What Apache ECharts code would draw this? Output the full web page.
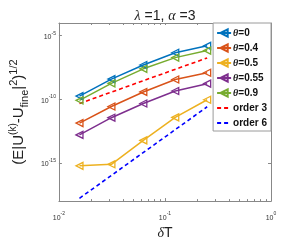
<!DOCTYPE html>
<html><head><meta charset="utf-8">
<script src="https://cdn.jsdelivr.net/npm/echarts@6/dist/echarts.min.js"></script>
<style>html,body{margin:0;padding:0;background:#fff}#c{width:300px;height:245px}</style>
</head><body><div id="c"></div>
<script>
const dT = [0.015625, 0.03125, 0.0625, 0.125, 0.25];
const theta0 = [1.8e-10, 3.9e-9, 5.0e-8, 4.6e-7, 1.6e-6];
const theta04 = [1.35e-12, 2.75e-11, 3.8e-10, 3.6e-9, 1.23e-8];
const theta05 = [5.9e-16, 7.8e-16, 5.9e-14, 3.8e-12, 9.3e-11];
const theta055 = [1.6e-13, 3.6e-12, 4.7e-11, 4.5e-10, 1.7e-9];
const theta09 = [8.3e-11, 1.8e-9, 2.5e-8, 1.9e-7, 6.8e-7];
const refX = [0.015625, 0.25];
const order3 = [4.7e-11, 1.8e-7];
const order6 = [1.66e-18, 2.6e-11];
const xMajorTicks = [0.01, 0.1, 1];
const xMinorTicks = [0.02, 0.03, 0.04, 0.05, 0.06, 0.07, 0.08, 0.09, 0.2, 0.3, 0.4, 0.5, 0.6, 0.7, 0.8, 0.9];
const yMajorTicks = [1e-15, 1e-10, 1e-5];
const seriesNames = ['θ=0', 'θ=0.4', 'θ=0.5', 'θ=0.55', 'θ=0.9', 'order 3', 'order 6'];

const colors = ['#0072BD', '#D95319', '#EDB120', '#7E2F8E', '#77AC30', '#FF0000', '#0000FF'];
const triLeft = 'path://M0,5L10,0L10,10Z';
const pairs = (xs, ys) => xs.map((x, i) => [x, ys[i]]);
const expOf = v => Math.round(Math.log10(v));
const supFmt = v => '{b|10}{e|' + expOf(v) + '}';

function thetaSeries(name, ys, c) {
  return {
    name: name, type: 'line', data: pairs(dT, ys),
    symbol: triLeft, symbolSize: 7,
    lineStyle: { color: c, width: 1.5 },
    itemStyle: { color: 'rgba(255,255,255,0)', borderColor: c, borderWidth: 1.3 },
    emphasis: { disabled: true }, z: 3
  };
}
function refSeries(name, ys, c) {
  return {
    name: name, type: 'line', data: pairs(refX, ys), symbol: 'circle', showSymbol: false, symbolSize: 1,
    lineStyle: { color: c, width: 1.6, type: [4, 3] },
    itemStyle: { color: c, opacity: 0 },
    emphasis: { disabled: true }, z: 2
  };
}

const tickLabelRich = {
  b: { fontSize: 7, color: '#333', fontFamily: 'Liberation Sans', verticalAlign: 'bottom', lineHeight: 10 },
  e: { fontSize: 5, color: '#333', fontFamily: 'Liberation Sans', verticalAlign: 'top', lineHeight: 10 }
};

const chart = echarts.init(document.getElementById('c'), null, { renderer: 'canvas' });
chart.setOption({
  animation: false,
  backgroundColor: '#fff',
  title: {
    text: '{g|λ} =1, {g|α} =3', left: 160, top: 4, textAlign: 'center',
    textStyle: { fontSize: 14, fontWeight: 'normal', color: '#222', fontFamily: 'Liberation Sans',
      rich: { g: { fontSize: 14, fontStyle: 'italic', color: '#222', fontFamily: 'Liberation Serif' } } }
  },
  grid: { left: 49, top: 23, width: 222, height: 185, containLabel: false },
  legend: {
    data: seriesNames, orient: 'vertical', right: 29, top: 23,
    backgroundColor: '#fff', borderColor: '#9a9a9a', borderWidth: 1, borderRadius: 0,
    padding: [5, 4, 3, 3], itemGap: 5, itemWidth: 14, itemHeight: 9,
    textStyle: { fontSize: 10, fontWeight: 'bold', color: '#111', fontFamily: 'Liberation Sans', padding: [0, 0, 0, -3],
      rich: { t: { fontSize: 10, fontStyle: 'italic', color: '#111', fontFamily: 'Liberation Serif' },
              n: { fontSize: 10, fontWeight: 'bold', color: '#111', fontFamily: 'Liberation Sans' } } },
    formatter: n => n.indexOf('θ') === 0 ? '{t|θ}{n|' + n.slice(1) + '}' : n
  },
  xAxis: [
    { type: 'log', logBase: 10, min: 0.01, max: 1, position: 'bottom',
      name: '{d|δ}T', nameLocation: 'middle', nameGap: 24,
      nameTextStyle: { fontSize: 14, color: '#222', fontFamily: 'Liberation Sans',
        rich: { d: { fontSize: 14, fontStyle: 'italic', color: '#222', fontFamily: 'Liberation Serif' } } },
      axisLine: { show: true, lineStyle: { color: '#888', width: 1 } },
      axisTick: { show: true, inside: true, length: 3, customValues: xMajorTicks, lineStyle: { color: '#888' } },
      axisLabel: { show: true, margin: 10, customValues: xMajorTicks, formatter: supFmt, rich: tickLabelRich },
      splitLine: { show: false }, minorTick: { show: false } },
    { type: 'log', logBase: 10, min: 0.01, max: 1, position: 'bottom',
      axisLine: { show: false },
      axisTick: { show: true, inside: true, length: 2, customValues: xMinorTicks, lineStyle: { color: '#888' } },
      axisLabel: { show: false }, splitLine: { show: false } },
    { type: 'log', logBase: 10, min: 0.01, max: 1, position: 'top',
      axisLine: { show: true, lineStyle: { color: '#888', width: 1 } },
      axisTick: { show: true, inside: true, length: 2, customValues: xMajorTicks.concat(xMinorTicks), lineStyle: { color: '#888' } },
      axisLabel: { show: false }, splitLine: { show: false } }
  ],
  yAxis: [
    { type: 'log', logBase: 10, min: 1e-18, max: 1e-4, position: 'left',
      name: '{m|(E|U}{s|(k)}{m|-U}{u|fine}{m||}{s2|2}{m|)}{s2|1/2}',
      nameLocation: 'middle', nameRotate: 90, nameGap: 21,
      nameTextStyle: { fontSize: 15, color: '#222', fontFamily: 'Liberation Sans', lineHeight: 22,
        rich: {
          m: { fontSize: 15, color: '#222', fontFamily: 'Liberation Sans', verticalAlign: 'middle', lineHeight: 22 },
          s: { fontSize: 10, color: '#222', fontFamily: 'Liberation Sans', verticalAlign: 'top', lineHeight: 22 },
          s2: { fontSize: 11, color: '#222', fontFamily: 'Liberation Sans', verticalAlign: 'top', lineHeight: 22 },
          u: { fontSize: 11, color: '#222', fontFamily: 'Liberation Sans', verticalAlign: 'bottom', lineHeight: 22 }
        } },
      axisLine: { show: true, lineStyle: { color: '#888', width: 1 } },
      axisTick: { show: true, inside: true, length: 3, customValues: yMajorTicks, lineStyle: { color: '#888' } },
      axisLabel: { show: true, margin: 3, customValues: yMajorTicks, formatter: supFmt, rich: tickLabelRich },
      splitLine: { show: false } },
    { type: 'log', logBase: 10, min: 1e-18, max: 1e-4, position: 'right',
      axisLine: { show: true, lineStyle: { color: '#888', width: 1 } },
      axisTick: { show: true, inside: true, length: 3, customValues: yMajorTicks, lineStyle: { color: '#888' } },
      axisLabel: { show: false }, splitLine: { show: false } }
  ],
  series: [
    thetaSeries(seriesNames[0], theta0, colors[0]),
    thetaSeries(seriesNames[1], theta04, colors[1]),
    thetaSeries(seriesNames[2], theta05, colors[2]),
    thetaSeries(seriesNames[3], theta055, colors[3]),
    thetaSeries(seriesNames[4], theta09, colors[4]),
    refSeries(seriesNames[5], order3, colors[5]),
    refSeries(seriesNames[6], order6, colors[6])
  ]
});
</script></body></html>
